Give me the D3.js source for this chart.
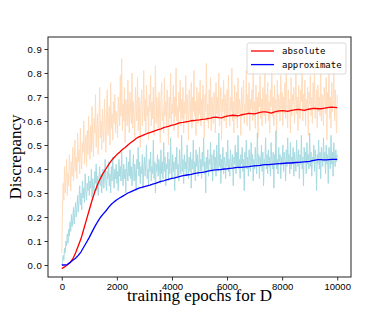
<!DOCTYPE html>
<html>
<head>
<meta charset="utf-8">
<script src="https://cdn.jsdelivr.net/npm/d3@7"></script>
<style>
  body { margin: 0; background: #fff; }
  .tick text { font-family: "Liberation Sans", Arial, sans-serif; }
</style>
</head>
<body>
<div id="chart"></div>
<script>
// raw (noisy) discrepancy, one value every 25 epochs
var rawStep = 25;
var absoluteRaw = [
  0.05, 0.22, 0.34, 0.27, 0.41, 0.30, 0.36, 0.44, 0.29, 0.38, 0.33, 0.46, 0.40, 0.31, 0.43, 0.37, 0.49, 0.35, 0.42, 0.52,
  0.39, 0.45, 0.36, 0.55, 0.43, 0.48, 0.38, 0.57, 0.44, 0.40, 0.51, 0.47, 0.60, 0.42, 0.49, 0.54, 0.41, 0.56, 0.46, 0.62,
  0.50, 0.44, 0.58, 0.47, 0.66, 0.52, 0.45, 0.61, 0.55, 0.71, 0.49, 0.57, 0.63, 0.46, 0.59, 0.74, 0.53, 0.60, 0.48, 0.65,
  0.56, 0.51, 0.69, 0.58, 0.47, 0.62, 0.73, 0.54, 0.60, 0.66, 0.50, 0.76, 0.57, 0.63, 0.52, 0.68, 0.59, 0.71, 0.55, 0.64,
  0.61, 0.53, 0.70, 0.66, 0.58, 0.79, 0.62, 0.86, 0.56, 0.67, 0.60, 0.74, 0.51, 0.69, 0.64, 0.58, 0.77, 0.62, 0.55, 0.72,
  0.65, 0.59, 0.80, 0.57, 0.68, 0.62, 0.53, 0.74, 0.66, 0.60, 0.78, 0.56, 0.70, 0.63, 0.49, 0.67, 0.73, 0.58, 0.64, 0.81,
  0.60, 0.69, 0.55, 0.75, 0.62, 0.66, 0.52, 0.71, 0.64, 0.79, 0.58, 0.68, 0.61, 0.74, 0.54, 0.65, 0.83, 0.59, 0.70, 0.63,
  0.57, 0.72, 0.66, 0.51, 0.69, 0.76, 0.60, 0.64, 0.55, 0.78, 0.62, 0.68, 0.58, 0.73, 0.65, 0.50, 0.70, 0.61, 0.80, 0.59,
  0.67, 0.63, 0.75, 0.56, 0.70, 0.62, 0.82, 0.60, 0.66, 0.53, 0.72, 0.64, 0.77, 0.58, 0.69, 0.61, 0.74, 0.55, 0.68, 0.63,
  0.79, 0.59, 0.71, 0.65, 0.52, 0.73, 0.67, 0.60, 0.76, 0.57, 0.70, 0.64, 0.81, 0.62, 0.68, 0.54, 0.74, 0.66, 0.59, 0.72,
  0.63, 0.77, 0.58, 0.69, 0.61, 0.75, 0.66, 0.53, 0.71, 0.64, 0.84, 0.60, 0.67, 0.57, 0.73, 0.62, 0.78, 0.56, 0.70, 0.65,
  0.59, 0.72, 0.68, 0.55, 0.76, 0.63, 0.70, 0.61, 0.80, 0.58, 0.67, 0.74, 0.52, 0.69, 0.64, 0.77, 0.60, 0.71, 0.66, 0.57,
  0.73, 0.62, 0.79, 0.65, 0.58, 0.70, 0.64, 0.82, 0.60, 0.68, 0.55, 0.75, 0.67, 0.61, 0.72, 0.57, 0.78, 0.63, 0.69, 0.66,
  0.54, 0.74, 0.62, 0.70, 0.77, 0.59, 0.67, 0.64, 0.81, 0.58, 0.71, 0.63, 0.76, 0.56, 0.69, 0.65, 0.73, 0.60, 0.83, 0.62,
  0.68, 0.57, 0.75, 0.64, 0.70, 0.53, 0.72, 0.66, 0.79, 0.61, 0.69, 0.58, 0.74, 0.67, 0.62, 0.80, 0.59, 0.71, 0.64, 0.76,
  0.60, 0.68, 0.55, 0.73, 0.66, 0.84, 0.62, 0.70, 0.58, 0.75, 0.64, 0.69, 0.52, 0.77, 0.63, 0.71, 0.67, 0.60, 0.79, 0.65,
  0.72, 0.58, 0.70, 0.63, 0.76, 0.61, 0.82, 0.66, 0.57, 0.73, 0.64, 0.69, 0.55, 0.78, 0.62, 0.71, 0.67, 0.74, 0.59, 0.68,
  0.80, 0.63, 0.70, 0.56, 0.75, 0.66, 0.61, 0.73, 0.68, 0.85, 0.60, 0.71, 0.64, 0.77, 0.58, 0.69, 0.65, 0.74, 0.54, 0.72,
  0.67, 0.79, 0.62, 0.70, 0.59, 0.76, 0.65, 0.81, 0.61, 0.68, 0.73, 0.57, 0.75, 0.64, 0.70, 0.62, 0.83, 0.60, 0.71, 0.66,
  0.58, 0.74, 0.69, 0.63, 0.78, 0.52, 0.72, 0.66, 0.80, 0.61, 0.70, 0.57, 0.76, 0.64, 0.68, 0.82, 0.60, 0.73, 0.65, 0.55,
  0.71
];
var approxRaw = [
  0.00, 0.01, 0.04, 0.02, 0.07, 0.05, 0.10, 0.08, 0.13, 0.09, 0.15, 0.12, 0.18, 0.14, 0.21, 0.16, 0.19, 0.24, 0.17, 0.22,
  0.26, 0.20, 0.24, 0.29, 0.22, 0.27, 0.33, 0.25, 0.30, 0.23, 0.35, 0.28, 0.32, 0.26, 0.38, 0.30, 0.27, 0.34, 0.31, 0.37,
  0.29, 0.35, 0.32, 0.40, 0.28, 0.36, 0.33, 0.30, 0.39, 0.34, 0.42, 0.31, 0.37, 0.29, 0.35, 0.41, 0.33, 0.38, 0.30, 0.36,
  0.40, 0.32, 0.37, 0.44, 0.34, 0.31, 0.39, 0.36, 0.43, 0.33, 0.38, 0.30, 0.41, 0.35, 0.45, 0.37, 0.32, 0.40, 0.36, 0.42,
  0.34, 0.39, 0.31, 0.44, 0.37, 0.41, 0.35, 0.47, 0.38, 0.33, 0.42, 0.36, 0.40, 0.30, 0.45, 0.39, 0.35, 0.43, 0.37, 0.48,
  0.36, 0.41, 0.33, 0.39, 0.46, 0.35, 0.42, 0.38, 0.31, 0.44, 0.40, 0.49, 0.37, 0.43, 0.34, 0.41, 0.38, 0.46, 0.32, 0.40,
  0.45, 0.37, 0.42, 0.50, 0.36, 0.40, 0.33, 0.44, 0.39, 0.47, 0.35, 0.41, 0.38, 0.52, 0.36, 0.43, 0.30, 0.42, 0.39, 0.46,
  0.37, 0.44, 0.40, 0.34, 0.48, 0.38, 0.43, 0.36, 0.51, 0.39, 0.45, 0.33, 0.42, 0.40, 0.47, 0.35, 0.44, 0.38, 0.53, 0.41,
  0.36, 0.46, 0.39, 0.43, 0.31, 0.45, 0.40, 0.49, 0.37, 0.42, 0.35, 0.48, 0.41, 0.38, 0.54, 0.39, 0.44, 0.34, 0.46, 0.40,
  0.43, 0.37, 0.50, 0.41, 0.36, 0.45, 0.39, 0.47, 0.32, 0.44, 0.40, 0.52, 0.38, 0.43, 0.35, 0.48, 0.41, 0.46, 0.37, 0.42,
  0.49, 0.39, 0.44, 0.36, 0.47, 0.41, 0.53, 0.38, 0.43, 0.30, 0.45, 0.40, 0.48, 0.37, 0.44, 0.42, 0.51, 0.39, 0.46, 0.35,
  0.43, 0.48, 0.40, 0.45, 0.37, 0.50, 0.42, 0.39, 0.55, 0.41, 0.46, 0.34, 0.44, 0.40, 0.49, 0.38, 0.45, 0.42, 0.36, 0.47,
  0.41, 0.52, 0.39, 0.44, 0.37, 0.48, 0.43, 0.40, 0.46, 0.33, 0.45, 0.42, 0.50, 0.38, 0.47, 0.41, 0.54, 0.40, 0.44, 0.36,
  0.46, 0.42, 0.49, 0.39, 0.44, 0.31, 0.47, 0.41, 0.52, 0.40, 0.45, 0.37, 0.48, 0.43, 0.39, 0.51, 0.42, 0.46, 0.35, 0.44,
  0.40, 0.49, 0.43, 0.38, 0.55, 0.42, 0.46, 0.36, 0.45, 0.41, 0.50, 0.39, 0.47, 0.33, 0.44, 0.42, 0.53, 0.40, 0.46, 0.38,
  0.48, 0.41, 0.45, 0.37, 0.51, 0.43, 0.40, 0.47, 0.32, 0.46, 0.42, 0.56, 0.40, 0.44, 0.38, 0.49, 0.43, 0.46, 0.36, 0.45,
  0.42, 0.50, 0.39, 0.47, 0.44, 0.35, 0.48, 0.41, 0.53, 0.43, 0.46, 0.38, 0.51, 0.40, 0.45, 0.42, 0.49, 0.37, 0.47, 0.43,
  0.39, 0.52, 0.44, 0.41, 0.48, 0.36, 0.46, 0.42, 0.54, 0.40, 0.45, 0.33, 0.49, 0.43, 0.47, 0.38, 0.51, 0.42, 0.46, 0.40,
  0.55, 0.41, 0.47, 0.37, 0.45, 0.43, 0.50, 0.39, 0.48, 0.44, 0.31, 0.46, 0.42, 0.52, 0.40, 0.47, 0.36, 0.49, 0.44, 0.41,
  0.53, 0.43, 0.47, 0.38, 0.50, 0.42, 0.46, 0.34, 0.49, 0.44, 0.40, 0.54, 0.42, 0.47, 0.37, 0.51, 0.45, 0.41, 0.48, 0.43,
  0.46
];

// smoothed curves, one value every 100 epochs
var smoothStep = 100;
var absoluteSmooth = [
  -0.015, -0.008, 0.000, 0.010, 0.025, 0.050, 0.080, 0.110, 0.150, 0.190,
  0.230, 0.270, 0.305, 0.335, 0.360, 0.382, 0.400, 0.418, 0.435, 0.448,
  0.460, 0.470, 0.481, 0.490, 0.500, 0.509, 0.518, 0.527, 0.534, 0.538,
  0.543, 0.548, 0.552, 0.556, 0.560, 0.564, 0.567, 0.572, 0.576, 0.579,
  0.583, 0.585, 0.589, 0.593, 0.594, 0.596, 0.598, 0.601, 0.602, 0.604,
  0.605, 0.607, 0.608, 0.610, 0.612, 0.615, 0.616, 0.614, 0.613, 0.617,
  0.620, 0.622, 0.624, 0.623, 0.621, 0.625, 0.628, 0.630, 0.632, 0.631,
  0.630, 0.633, 0.636, 0.638, 0.638, 0.636, 0.633, 0.637, 0.640, 0.642,
  0.643, 0.642, 0.640, 0.643, 0.645, 0.647, 0.648, 0.646, 0.644, 0.647,
  0.650, 0.652, 0.653, 0.651, 0.651, 0.653, 0.655, 0.657, 0.658, 0.657,
  0.656
];
var approxSmooth = [
  0.000, 0.000, 0.002, 0.010, 0.020, 0.028, 0.040, 0.055, 0.075, 0.095,
  0.115, 0.138, 0.160, 0.180, 0.198, 0.212, 0.225, 0.240, 0.253, 0.263,
  0.272, 0.279, 0.286, 0.293, 0.300, 0.305, 0.310, 0.315, 0.320, 0.323,
  0.327, 0.330, 0.333, 0.337, 0.340, 0.344, 0.348, 0.351, 0.355, 0.358,
  0.361, 0.363, 0.366, 0.369, 0.372, 0.374, 0.376, 0.378, 0.381, 0.383,
  0.385, 0.386, 0.388, 0.391, 0.393, 0.395, 0.396, 0.397, 0.398, 0.400,
  0.401, 0.403, 0.404, 0.406, 0.407, 0.407, 0.408, 0.409, 0.410, 0.412,
  0.413, 0.414, 0.415, 0.417, 0.418, 0.418, 0.419, 0.420, 0.421, 0.422,
  0.423, 0.424, 0.425, 0.425, 0.426, 0.427, 0.428, 0.429, 0.430, 0.431,
  0.432, 0.435, 0.437, 0.439, 0.439, 0.438, 0.438, 0.439, 0.440, 0.440,
  0.440
];

var seriesNames = ["absolute", "approximate"];
var xTicks = [0, 2000, 4000, 6000, 8000, 10000];
var yTicks = [0.0, 0.1, 0.2, 0.3, 0.4, 0.5, 0.6, 0.7, 0.8, 0.9];

var W = 390, H = 312;
var plotL = 48, plotT = 37, plotR = 351, plotB = 277;

var svg = d3.select("#chart").append("svg").attr("width", W).attr("height", H);

var x = d3.scaleLinear().domain([-500, 10500]).range([plotL, plotR]);
var y = d3.scaleLinear().domain([-0.05, 0.95]).range([plotB, plotT]);

svg.append("clipPath").attr("id", "plot")
  .append("rect").attr("x", plotL).attr("y", plotT)
  .attr("width", plotR - plotL).attr("height", plotB - plotT);

var plot = svg.append("g").attr("clip-path", "url(#plot)");

function drawLine(values, step, color, width) {
  var line = d3.line()
    .x(function (d, i) { return x(i * step); })
    .y(function (d) { return y(d); });
  plot.append("path")
    .datum(values)
    .attr("d", line)
    .attr("fill", "none")
    .attr("stroke", color)
    .attr("stroke-width", width)
    .attr("stroke-linejoin", "round");
}

drawLine(absoluteRaw, rawStep, "#ffdcbc", 1);
drawLine(approxRaw, rawStep, "#a8dbe2", 1);
drawLine(absoluteSmooth, smoothStep, "#ff0000", 1.3);
drawLine(approxSmooth, smoothStep, "#0000ff", 1.3);

// axes
var xAxis = d3.axisBottom(x).tickValues(xTicks).tickSize(3.5).tickPadding(3)
  .tickFormat(d3.format("d"));
var yAxis = d3.axisLeft(y).tickValues(yTicks).tickSize(3.5).tickPadding(2)
  .tickFormat(d3.format(".1f"));

var gx = svg.append("g").attr("transform", "translate(0," + plotB + ")").call(xAxis);
var gy = svg.append("g").attr("transform", "translate(" + plotL + ",0)").call(yAxis);
[gx, gy].forEach(function (g) {
  g.select(".domain").remove();
  g.selectAll(".tick line").attr("stroke", "#000").attr("stroke-width", 0.8);
  g.selectAll(".tick text").attr("fill", "#000");
});
gx.selectAll(".tick text").style("font-size", "9.5px");
gy.selectAll(".tick text").style("font-size", "9.5px").style("letter-spacing", "0.6px");

// frame
svg.append("rect")
  .attr("x", plotL).attr("y", plotT)
  .attr("width", plotR - plotL).attr("height", plotB - plotT)
  .attr("fill", "none").attr("stroke", "#222").attr("stroke-width", 1);

// axis labels
svg.append("text")
  .attr("x", (plotL + plotR) / 2).attr("y", 301)
  .attr("text-anchor", "middle")
  .style("font-family", "'Liberation Serif', 'Times New Roman', serif")
  .style("font-size", "17px")
  .text("training epochs for D");

svg.append("text")
  .attr("transform", "translate(21," + ((plotT + plotB) / 2) + ") rotate(-90)")
  .attr("text-anchor", "middle")
  .style("font-family", "'Liberation Serif', 'Times New Roman', serif")
  .style("font-size", "17px")
  .text("Discrepancy");

// legend
var legend = svg.append("g").attr("transform", "translate(247,43)");
legend.append("rect")
  .attr("width", 99).attr("height", 31).attr("rx", 2)
  .attr("fill", "#fff").attr("fill-opacity", 0.85)
  .attr("stroke", "#d0d0d0").attr("stroke-width", 0.8);
var legendColors = ["#ff0000", "#0000ff"];
seriesNames.forEach(function (name, i) {
  var ly = 8 + i * 13.6;
  legend.append("line")
    .attr("x1", 4).attr("x2", 27).attr("y1", ly).attr("y2", ly)
    .attr("stroke", legendColors[i]).attr("stroke-width", 1.3);
  legend.append("text")
    .attr("x", 35).attr("y", ly + 3)
    .style("font-family", "'DejaVu Sans Mono', monospace")
    .style("font-size", "9px")
    .text(name);
});
</script>
</body>
</html>
